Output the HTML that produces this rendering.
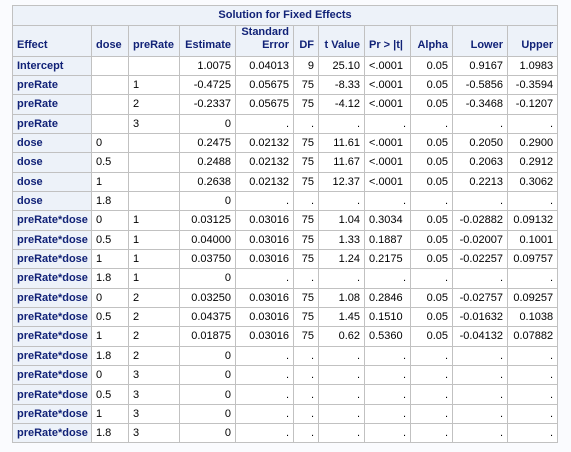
<!DOCTYPE html>
<html><head><meta charset="utf-8"><style>
body{margin:0;background:#fafbfe;width:571px;height:452px;overflow:hidden;font-family:"Liberation Sans",Arial,sans-serif;}
table{position:absolute;left:12px;top:5px;width:545px;border-collapse:collapse;table-layout:fixed;font-size:11px;color:#000;}
td,th{border:1px solid #c1c1c1;padding:0 4px;white-space:nowrap;overflow:hidden;box-sizing:border-box;}
th{background:#edf2f9;color:#112277;font-weight:bold;}
td{background:#fff;height:19.35px;text-align:right;}
tr.d th{height:19.35px;}
td.l{text-align:left;}
th.rh{text-align:left;}
tr.h th{vertical-align:bottom;text-align:right;padding-bottom:4px;height:31px;line-height:13px;}
tr.h th.lft{text-align:left;}
tr.t th{height:19.5px;text-align:center;}
</style></head><body>
<table>
<colgroup><col style="width:79px"><col style="width:37px"><col style="width:51px"><col style="width:56px"><col style="width:58px"><col style="width:25px"><col style="width:46px"><col style="width:46px"><col style="width:42px"><col style="width:55px"><col style="width:50px"></colgroup>
<tr class="t"><th colspan="11">Solution for Fixed Effects</th></tr>
<tr class="h"><th class="lft">Effect</th><th class="lft">dose</th><th class="lft">preRate</th><th>Estimate</th><th>Standard<br>Error</th><th>DF</th><th>t Value</th><th class="lft">Pr &gt; |t|</th><th>Alpha</th><th>Lower</th><th>Upper</th></tr>
<tbody id="b"></tbody>
</table>
<script>
const rows=[
["Intercept","","","1.0075","0.04013","9","25.10","<.0001","0.05","0.9167","1.0983"],
["preRate","","1","-0.4725","0.05675","75","-8.33","<.0001","0.05","-0.5856","-0.3594"],
["preRate","","2","-0.2337","0.05675","75","-4.12","<.0001","0.05","-0.3468","-0.1207"],
["preRate","","3","0",".",".",".",".",".",".","."],
["dose","0","","0.2475","0.02132","75","11.61","<.0001","0.05","0.2050","0.2900"],
["dose","0.5","","0.2488","0.02132","75","11.67","<.0001","0.05","0.2063","0.2912"],
["dose","1","","0.2638","0.02132","75","12.37","<.0001","0.05","0.2213","0.3062"],
["dose","1.8","","0",".",".",".",".",".",".","."],
["preRate*dose","0","1","0.03125","0.03016","75","1.04","0.3034","0.05","-0.02882","0.09132"],
["preRate*dose","0.5","1","0.04000","0.03016","75","1.33","0.1887","0.05","-0.02007","0.1001"],
["preRate*dose","1","1","0.03750","0.03016","75","1.24","0.2175","0.05","-0.02257","0.09757"],
["preRate*dose","1.8","1","0",".",".",".",".",".",".","."],
["preRate*dose","0","2","0.03250","0.03016","75","1.08","0.2846","0.05","-0.02757","0.09257"],
["preRate*dose","0.5","2","0.04375","0.03016","75","1.45","0.1510","0.05","-0.01632","0.1038"],
["preRate*dose","1","2","0.01875","0.03016","75","0.62","0.5360","0.05","-0.04132","0.07882"],
["preRate*dose","1.8","2","0",".",".",".",".",".",".","."],
["preRate*dose","0","3","0",".",".",".",".",".",".","."],
["preRate*dose","0.5","3","0",".",".",".",".",".",".","."],
["preRate*dose","1","3","0",".",".",".",".",".",".","."],
["preRate*dose","1.8","3","0",".",".",".",".",".",".","."]];
const b=document.getElementById('b');
rows.forEach(r=>{const tr=document.createElement('tr');tr.className='d';


r.forEach((v,i)=>{let c;
if(i===0){c=document.createElement('th');c.className='rh';}else{c=document.createElement('td');if(i===1||i===2||(i===7&&v!=='.'))c.className='l';}
c.textContent=v;


tr.appendChild(c);});b.appendChild(tr);});
</script>
</body></html>
